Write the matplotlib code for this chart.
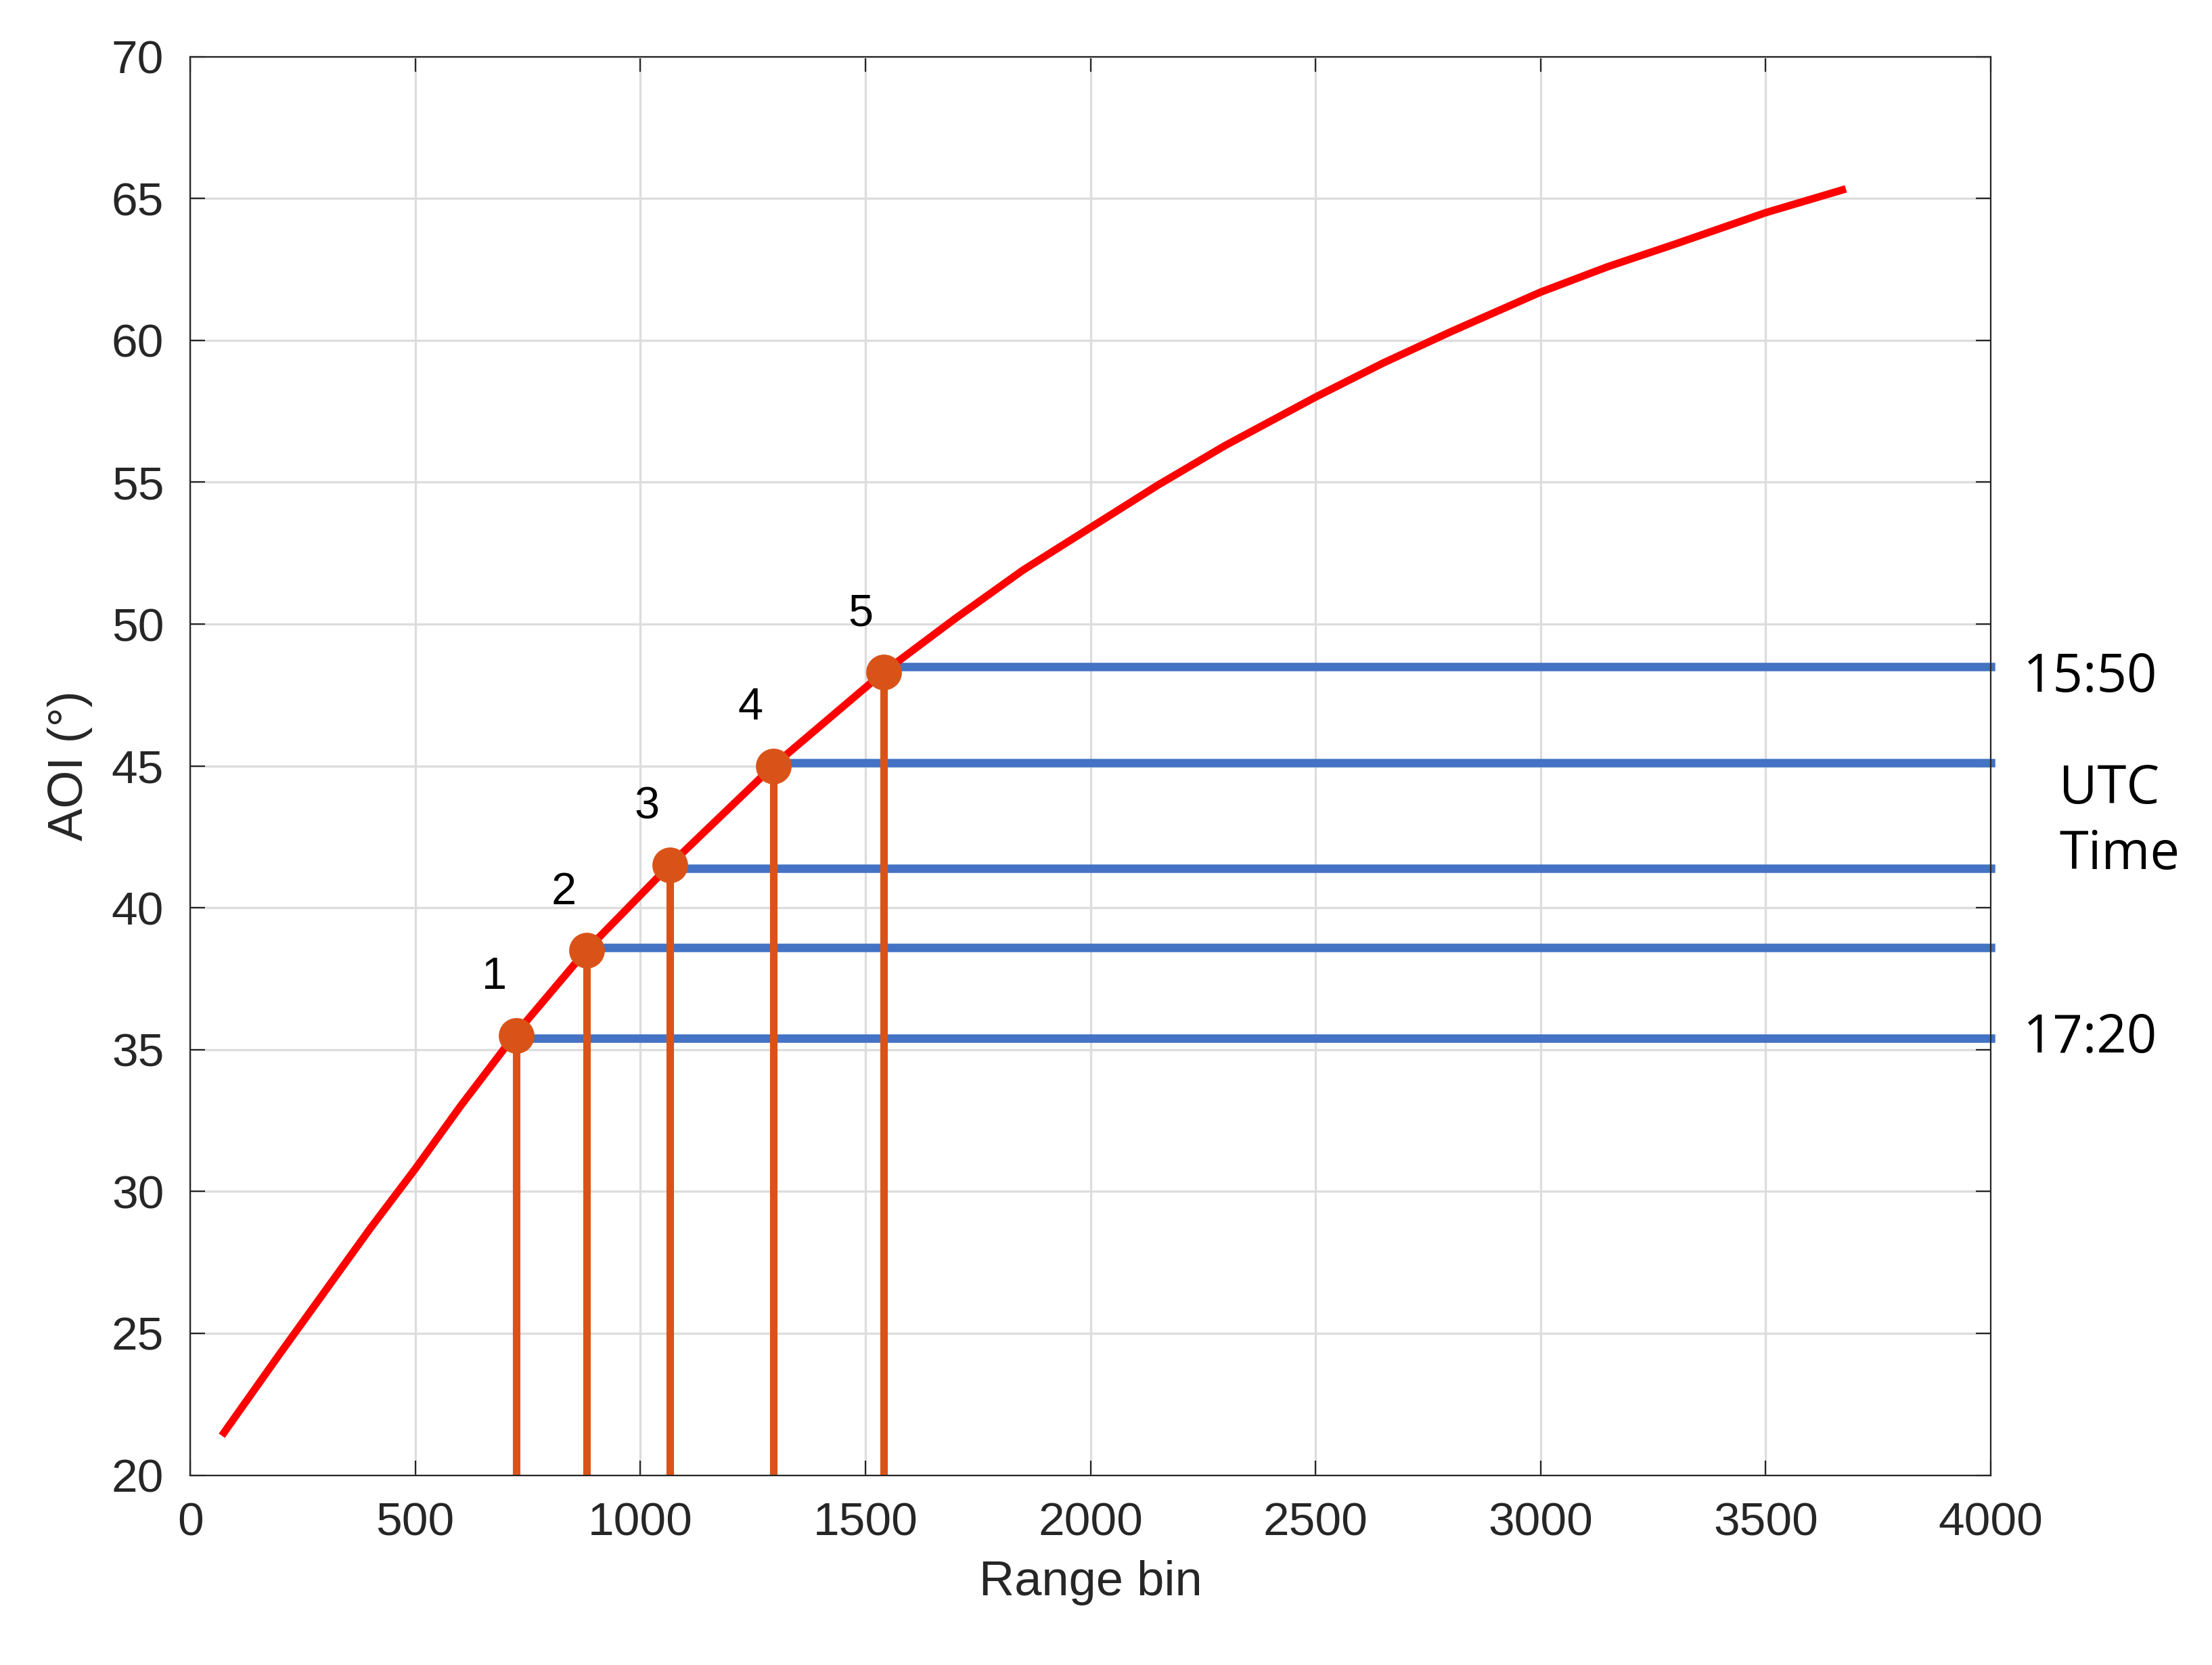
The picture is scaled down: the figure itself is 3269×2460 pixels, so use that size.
import matplotlib.pyplot as plt

# AOI curve
curve_x = [75, 200, 300, 400, 500, 600, 720, 880, 1065, 1295, 1540, 1700, 1850, 2000, 2150, 2300, 2500,
           2650, 2800, 3000, 3150, 3300, 3500, 3670]
curve_y = [21.5, 24.3, 26.5, 28.7, 30.8, 33.0, 35.5, 38.5, 41.5, 45.0, 48.3, 50.2, 51.9, 53.4, 54.9, 56.3,
           58.0, 59.2, 60.3, 61.7, 62.6, 63.4, 64.5, 65.3]

# marked acquisitions
pt_x = [725, 880, 1065, 1295, 1540]
pt_y = [35.5, 38.5, 41.5, 45.0, 48.3]
pt_labels = ["1", "2", "3", "4", "5"]
line_y = [35.4, 38.6, 41.4, 45.1, 48.5]

plt.rcParams['font.family'] = ['Liberation Sans', 'DejaVu Sans']

fig = plt.figure(figsize=(16.345, 12.3), dpi=200)
ax = fig.add_axes([0.086, 0.114, 0.814, 0.852])

ax.plot(curve_x, curve_y, color='#ff0000', lw=4, zorder=3)
for x, y, ly, lab in zip(pt_x, pt_y, line_y, pt_labels):
    ax.plot([x, x], [20, y], color='#d95319', lw=4, zorder=2)
    ax.plot([x, 4000], [ly, ly], color='#4472c4', lw=4.5, zorder=2, clip_on=False)
    ax.plot(x, y, 'o', color='#d95319', ms=18, zorder=4)
    ax.text(x - 50, y + 1.3, lab, fontsize=24, ha='center', va='bottom')

ax.set_xlim(0, 4000)
ax.set_ylim(20, 70)
ax.set_xticks(range(0, 4001, 500))
ax.set_yticks(range(20, 71, 5))
ax.grid(True, color='#dddddd', lw=1.2)
ax.tick_params(labelsize=25, direction='in', length=8, pad=14, top=True, right=True, colors='#262626')
for s in ax.spines.values():
    s.set_color('#262626')
ax.set_xlabel("Range bin", fontsize=26, color='#262626', labelpad=8)
ax.set_ylabel("AOI (°)", fontsize=26, color='#262626', labelpad=10)

ax.text(1.018, 48.1, "15:50", transform=ax.get_yaxis_transform(), fontsize=28,
        family='Open Sans', va='center', ha='left')
ax.text(1.038, 43.0, "UTC\nTime", transform=ax.get_yaxis_transform(), fontsize=28,
        family='Open Sans', va='center', ha='left', linespacing=1.3)
ax.text(1.018, 35.4, "17:20", transform=ax.get_yaxis_transform(), fontsize=28,
        family='Open Sans', va='center', ha='left')

fig.savefig("out.png")
